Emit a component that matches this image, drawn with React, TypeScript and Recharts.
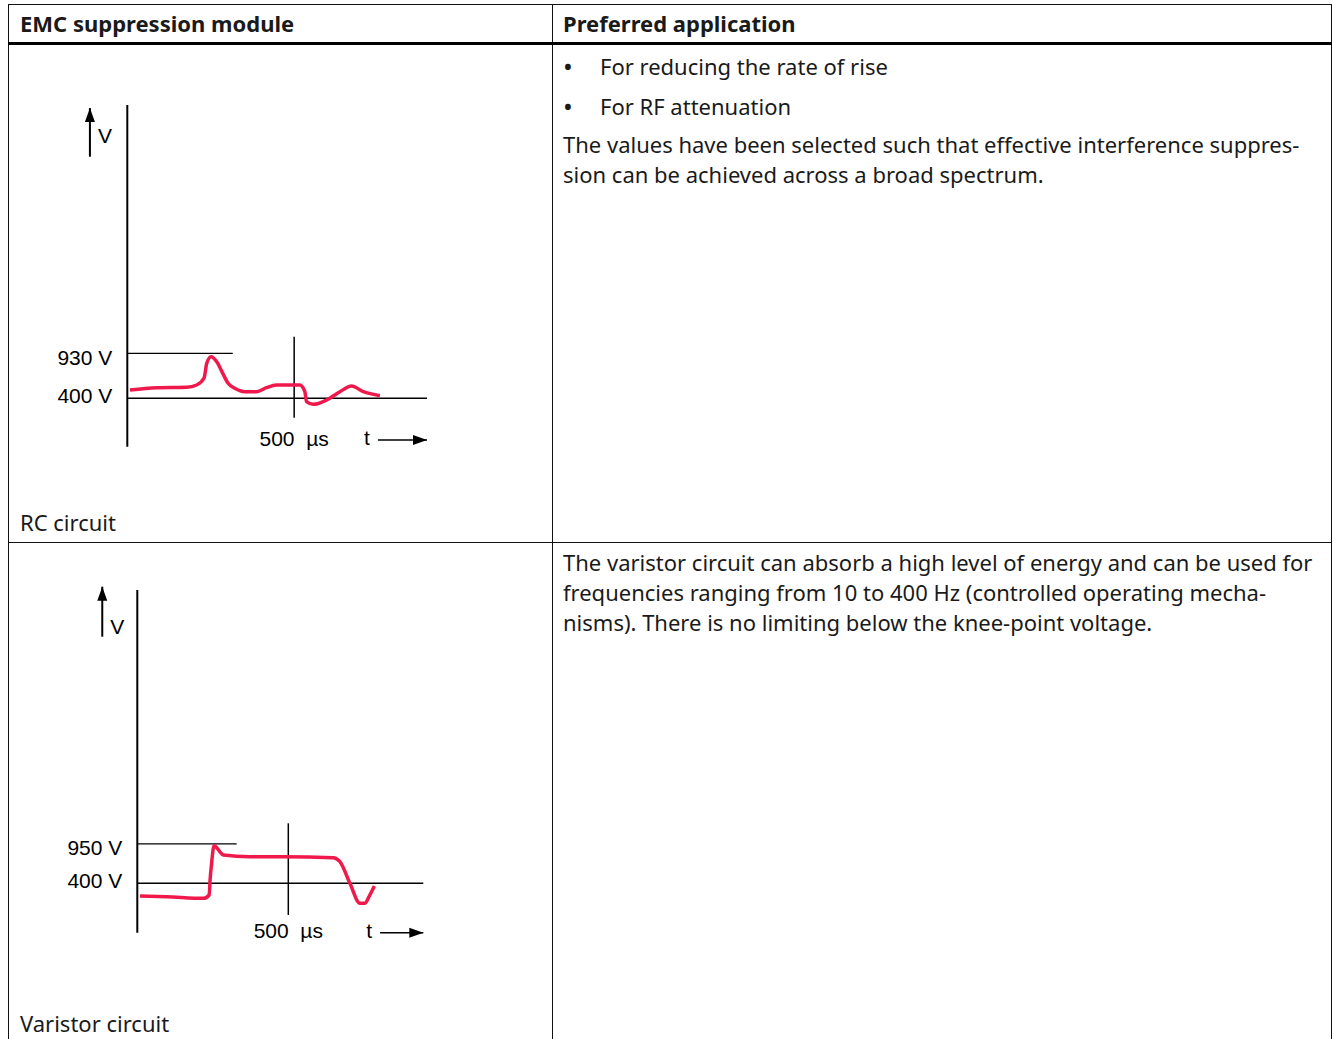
import React from 'react';
import { LineChart, Line, XAxis, YAxis, ReferenceLine } from 'recharts';

// RC circuit trace (time in µs, voltage in V)
const rcTime = [8, 88, 178, 208, 230, 238, 251, 268, 286, 302, 322, 352, 387, 417, 447, 517, 532, 537, 557, 597, 637, 672, 707, 757];
const rcVolt = [498, 525, 530, 557, 639, 812, 890, 831, 694, 577, 518, 478, 478, 525, 557, 557, 478, 360, 329, 380, 478, 545, 478, 431];
const rcTicks = [400, 930];

// Varistor circuit trace
const varTime = [9, 97, 219, 238, 241, 246, 254, 285, 373, 483, 649, 671, 704, 737, 753, 770, 785];
const varVolt = [222, 213, 190, 236, 446, 680, 926, 796, 772, 772, 758, 702, 400, 120, 120, 236, 362];
const varTicks = [400, 950];

const timeMark = 500;
const timeLabel = '500\u00a0\u00a0µs';

const TEXT_FONT = '"Noto Sans", "Open Sans", sans-serif';
const CHART_FONT = '"Liberation Sans", Arial, sans-serif';
const RED = '#f0194b';

function UpArrow(props: any) {
  const { viewBox, dy = 0 } = props;
  const { x, y, height } = viewBox;
  return (
    <g>
      <polygon points={`${x},${y} ${x - 5},${y + 14} ${x + 5},${y + 14}`} fill="#000" />
      <text x={x + 8} y={y + height / 2 + dy} fontSize={21} fontFamily={CHART_FONT} dominantBaseline="central" fill="#000">
        V
      </text>
    </g>
  );
}

function RightArrow(props: any) {
  const { viewBox } = props;
  const { x, y, width } = viewBox;
  const end = x + width;
  return (
    <g>
      <polygon points={`${end},${y} ${end - 14},${y - 5} ${end - 14},${y + 5}`} fill="#000" />
      <text x={x - 8} y={y - 2} fontSize={21} fontFamily={CHART_FONT} textAnchor="end" dominantBaseline="central" fill="#000">
        t
      </text>
    </g>
  );
}

// tick labels sit a bit off their lines in the original drawing
function VoltTick(props: any) {
  const { x, y, payload, top } = props;
  const dy = payload.value === top ? 4 : -2.5;
  return (
    <text x={x} y={y + dy} textAnchor="end" dominantBaseline="central" fontSize={21} fontFamily={CHART_FONT} fill="#000">
      {`${payload.value} V`}
    </text>
  );
}

type ScopeProps = {
  time: number[];
  volt: number[];
  ticks: number[];
  xMax: number;
  yDomain: [number, number];
  peakEnd: number;
  markRange: [number, number];
  markOffset: number;
  arrowX: number;
  arrowRange: [number, number];
  vDy: number;
  tStart: number;
  tLevel: number;
  top: number;
  margin: { top: number; left: number; right: number; bottom: number };
};

function Scope(p: ScopeProps) {
  const data = p.time.map((t, i) => ({ t, v: p.volt[i] }));
  return (
    <div style={{ position: 'absolute', left: 0, top: p.top, width: 440, height: 460 }}>
      <LineChart width={440} height={460} data={data} margin={p.margin}>
        <XAxis type="number" dataKey="t" domain={[0, p.xMax]} hide allowDataOverflow />
        <YAxis
          type="number"
          domain={p.yDomain}
          ticks={p.ticks}
          allowDataOverflow
          width={60}
          axisLine={{ stroke: '#000', strokeWidth: 2 }}
          tickLine={false}
          tickMargin={9}
          tick={<VoltTick top={p.ticks[1]} />}
        />
        <ReferenceLine y={p.ticks[0]} stroke="#000" strokeWidth={1.5} />
        <ReferenceLine
          segment={[{ x: 0, y: p.ticks[1] }, { x: p.peakEnd, y: p.ticks[1] }]}
          stroke="#000"
          strokeWidth={1.3}
        />
        <ReferenceLine
          segment={[{ x: timeMark, y: p.markRange[0] }, { x: timeMark, y: p.markRange[1] }]}
          stroke="#000"
          strokeWidth={1.5}
          label={{ value: timeLabel, position: 'bottom', offset: p.markOffset, fill: '#000', fontSize: 21, fontFamily: CHART_FONT }}
        />
        <ReferenceLine
          segment={[{ x: p.arrowX, y: p.arrowRange[0] }, { x: p.arrowX, y: p.arrowRange[1] }]}
          stroke="#000"
          strokeWidth={2}
          ifOverflow="visible"
          label={<UpArrow dy={p.vDy} />}
        />
        <ReferenceLine
          segment={[{ x: p.tStart, y: p.tLevel }, { x: p.xMax, y: p.tLevel }]}
          stroke="#000"
          strokeWidth={1.5}
          ifOverflow="visible"
          label={<RightArrow />}
        />
        <Line type="monotone" dataKey="v" stroke={RED} strokeWidth={3.5} dot={false} isAnimationActive={false} />
      </LineChart>
    </div>
  );
}

const line = (style: React.CSSProperties) => <div style={{ position: 'absolute', background: '#111', ...style }} />;

const textBase: React.CSSProperties = {
  position: 'absolute',
  fontFamily: TEXT_FONT,
  fontSize: 22,
  lineHeight: '30px',
  color: '#1a1a1a',
  whiteSpace: 'nowrap',
};

const bullet: React.CSSProperties = { ...textBase, fontSize: 26, left: 563 };

export default function App() {
  return (
    <div style={{ position: 'absolute', left: 0, top: 0, width: 1333, height: 1039, background: '#fff', overflow: 'hidden' }}>
      {line({ left: 8, top: 4, width: 1324, height: 1 })}
      {line({ left: 8, top: 4, width: 1, height: 1035 })}
      {line({ left: 1331, top: 4, width: 1, height: 1035 })}
      {line({ left: 552, top: 4, width: 1, height: 1035 })}
      {line({ left: 8, top: 42, width: 1324, height: 3, background: '#000' })}
      {line({ left: 8, top: 542, width: 1324, height: 1 })}

      <div style={{ ...textBase, left: 20, top: 8, fontWeight: 700 }}>EMC suppression module</div>
      <div style={{ ...textBase, left: 563, top: 8, fontWeight: 700 }}>Preferred application</div>

      <div style={{ ...bullet, top: 51 }}>•</div>
      <div style={{ ...textBase, left: 600, top: 51 }}>For reducing the rate of rise</div>
      <div style={{ ...bullet, top: 91 }}>•</div>
      <div style={{ ...textBase, left: 600, top: 91 }}>For RF attenuation</div>
      <div style={{ ...textBase, left: 563, top: 129 }}>
        The values have been selected such that effective interference suppres-
        <br />
        sion can be achieved across a broad spectrum.
      </div>
      <div style={{ ...textBase, left: 20, top: 507 }}>RC circuit</div>

      <div style={{ ...textBase, left: 563, top: 547 }}>
        The varistor circuit can absorb a high level of energy and can be used for
        <br />
        frequencies ranging from 10 to 400 Hz (controlled operating mecha-
        <br />
        nisms). There is no limiting below the knee-point voltage.
      </div>
      <div style={{ ...textBase, left: 20, top: 1008 }}>Varistor circuit</div>

      <Scope
        time={rcTime}
        volt={rcVolt}
        ticks={rcTicks}
        xMax={898}
        yDomain={[-170, 3855]}
        peakEnd={316}
        markRange={[172, 1126]}
        markOffset={13}
        arrowX={-112}
        arrowRange={[3246, 3819]}
        vDy={3}
        tStart={751}
        tLevel={-91}
        top={0}
        margin={{ top: 105, left: 67.3, right: 13, bottom: 13.3 }}
      />
      <Scope
        time={varTime}
        volt={varVolt}
        ticks={varTicks}
        xMax={947}
        yDomain={[-291, 4502]}
        peakEnd={329}
        markRange={[-43, 1239]}
        markOffset={8}
        arrowX={-116}
        arrowRange={[3849, 4548]}
        vDy={15}
        tStart={804}
        tLevel={-291}
        top={490}
        margin={{ top: 100, left: 77.3, right: 16.7, bottom: 17.3 }}
      />
    </div>
  );
}
